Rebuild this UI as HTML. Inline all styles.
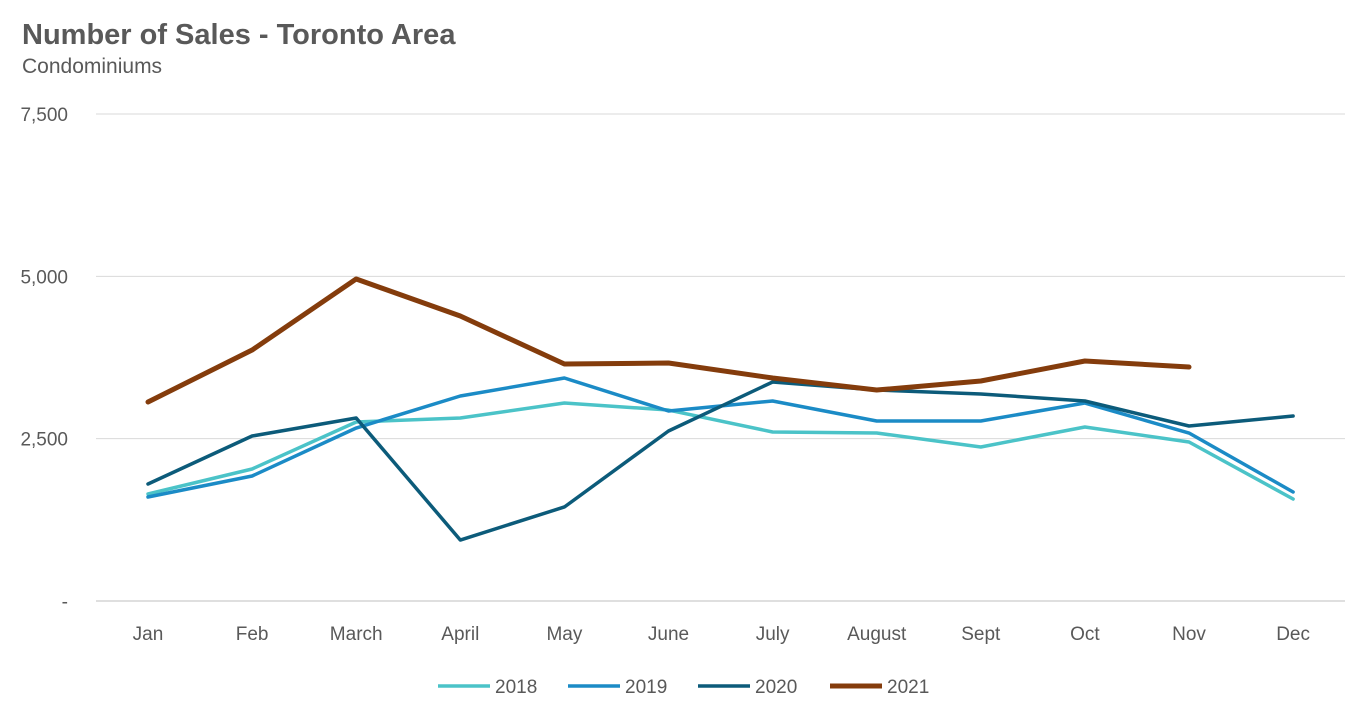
<!DOCTYPE html>
<html><head><meta charset="utf-8"><style>
body{margin:0;background:#fff;font-family:"Liberation Sans",Arial,sans-serif;}
</style></head><body>
<svg width="1349" height="717" xmlns="http://www.w3.org/2000/svg" font-family="Liberation Sans, Arial, sans-serif">
<text x="22" y="44" font-size="29" font-weight="bold" fill="#595959">Number of Sales - Toronto Area</text>
<text x="22" y="73" font-size="21" fill="#595959">Condominiums</text>
<g id="grid"></g><g id="xlabels"></g><g id="series"></g><g id="legend"></g>
</svg>
<script>
const months=["Jan","Feb","March","April","May","June","July","August","Sept","Oct","Nov","Dec"];
const yTicks=[0,2500,5000,7500];
const yTickLabels=["-","2,500","5,000","7,500"];
const s2018=[1648,2033,2757,2818,3049,2941,2603,2587,2372,2680,2449,1571];
const s2019=[1602,1925,2664,3157,3434,2926,3080,2772,2772,3049,2587,1679];
const s2020=[1802,2541,2818,939,1448,2618,3373,3249,3188,3080,2695,2849];
const s2021=[3065,3865,4959,4389,3650,3665,3434,3249,3388,3696,3604];
const seriesNames=["2018","2019","2020","2021"];
const NS="http://www.w3.org/2000/svg";
const X0=148,DX=104.1,Y0=601,YMAX=7500,YPIX=487;
const xs=i=>X0+i*DX, ys=v=>Y0-v/YMAX*YPIX;
function mk(t,a,p){const e=document.createElementNS(NS,t);for(const k in a)e.setAttribute(k,a[k]);p.appendChild(e);return e;}
const grid=document.getElementById('grid');
yTicks.forEach((v,i)=>{
 const l=mk('line',{x1:96,x2:1345,y1:ys(v),y2:ys(v),stroke:i==0?'#bfbfbf':'#d9d9d9','stroke-width':1},grid);
 
 
 const t=mk('text',{x:68,y:ys(v)+7,'text-anchor':'end','font-size':19,fill:'#595959'},grid);
 t.textContent=yTickLabels[i];
 
 
});
const xl=document.getElementById('xlabels');
months.forEach((m,i)=>{
 const t=mk('text',{x:xs(i),y:640,'text-anchor':'middle','font-size':19,fill:'#595959'},xl);
 t.textContent=m;
 
 
});
const data=[s2018,s2019,s2020,s2021];
const colors=["#4bc3c8","#1b8bc6","#0c5b7a","#843c0c"];
const widths=[3.5,3.5,3.5,5];
const sg=document.getElementById('series');
data.forEach((d,j)=>{
 const p=mk('polyline',{points:d.map((v,i)=>xs(i)+','+ys(v)).join(' '),fill:'none',stroke:colors[j],'stroke-width':widths[j],'stroke-linejoin':'round','stroke-linecap':'round'},sg);
 
 
});
const lg=document.getElementById('legend');
const lx=[438,568,698,830];
seriesNames.forEach((n,j)=>{
 const g=mk('g',{},lg);
 
 
 mk('line',{x1:lx[j],x2:lx[j]+52,y1:686,y2:686,stroke:colors[j],'stroke-width':widths[j]},g);
 const t=mk('text',{x:lx[j]+57,y:693,'font-size':19,fill:'#595959'},g);
 t.textContent=n;
});
</script>
</body></html>
